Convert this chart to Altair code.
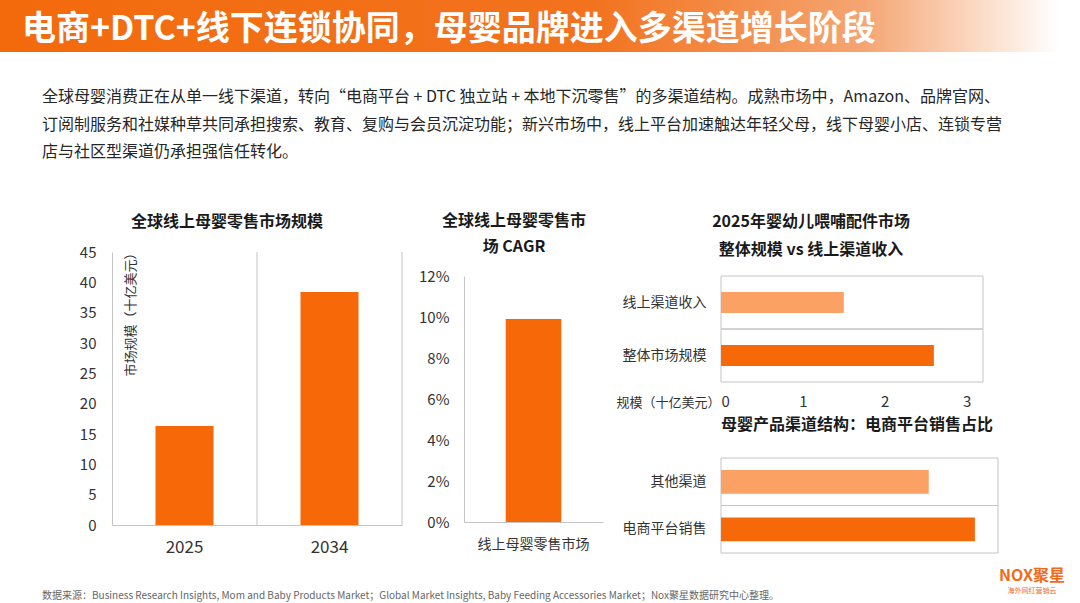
import altair as alt
import pandas as pd

# ---------------- data ----------------
c1_years = ["2025", "2034"]
c1_values = [16.3, 38.4]
c1_ticks = [0, 5, 10, 15, 20, 25, 30, 35, 40, 45]

c2_cats = ["线上母婴零售市场"]
c2_values = [0.099]
c2_ticks = [0, 0.02, 0.04, 0.06, 0.08, 0.10, 0.12]

c3_cats = ["线上渠道收入", "整体市场规模"]
c3_values = [1.5, 2.6]
c3_colors = ["#FBA163", "#F76808"]
c3_ticks = [0, 1, 2, 3]

c4_cats = ["其他渠道", "电商平台销售"]
c4_values = [0.45, 0.55]
c4_colors = ["#FBA163", "#F76808"]

header_title = "电商+DTC+线下连锁协同，母婴品牌进入多渠道增长阶段"
para_lines = [
    "全球母婴消费正在从单一线下渠道，转向“电商平台 + DTC 独立站 + 本地下沉零售”的多渠道结构。成熟市场中，Amazon、品牌官网、",
    "订阅制服务和社媒种草共同承担搜索、教育、复购与会员沉淀功能；新兴市场中，线上平台加速触达年轻父母，线下母婴小店、连锁专营",
    "店与社区型渠道仍承担强信任转化。",
]
footer = "数据来源：Business Research Insights, Mom and Baby Products Market；Global Market Insights, Baby Feeding Accessories Market；Nox聚星数据研究中心整理。"

FONT = "Noto Sans CJK SC"
ORANGE = "#F76808"
GRID = "#C4C4C4"
TXT = "#333333"
W, H = 1080, 603


def txt(s, x, y, size, weight="normal", color=TXT, align="left", baseline="middle"):
    return alt.Chart(pd.DataFrame({"t": [s]})).mark_text(
        align=align, baseline=baseline, fontSize=size, fontWeight=weight,
        color=color, font=FONT
    ).encode(text="t:N", x=alt.value(x), y=alt.value(y))


# ---------------- header ----------------
header = alt.Chart(pd.DataFrame({"a": [1]})).mark_rect(
    color=alt.LinearGradient(
        gradient="linear",
        stops=[
            alt.GradientStop(color="#F36A0C", offset=0),
            alt.GradientStop(color="#F2731E", offset=0.55),
            alt.GradientStop(color="#F5A572", offset=0.80),
            alt.GradientStop(color="#FFFFFF", offset=0.98),
        ],
        x1=0, x2=1, y1=0, y2=0,
    )
).encode(x=alt.value(0), x2=alt.value(W), y=alt.value(0), y2=alt.value(52))

layers = [header, txt(header_title, 22, 40, 34, weight="bold", color="#FFFFFF",
                      baseline="alphabetic")]
for i, line in enumerate(para_lines):
    layers.append(txt(line, 42, 97 + i * 27.5, 16, color="#262626"))

# panel titles
layers += [
    txt("全球线上母婴零售市场规模", 227, 222, 16, weight="bold", color="#1A1A1A", align="center"),
    txt("全球线上母婴零售市", 514, 221, 16, weight="bold", color="#1A1A1A", align="center"),
    txt("场 CAGR", 514, 247, 16, weight="bold", color="#1A1A1A", align="center"),
    txt("2025年婴幼儿喂哺配件市场", 811, 222, 16, weight="bold", color="#1A1A1A", align="center"),
    txt("整体规模 vs 线上渠道收入", 811, 250, 16, weight="bold", color="#1A1A1A", align="center"),
    txt("母婴产品渠道结构：电商平台销售占比", 857, 425, 16, weight="bold", color="#1A1A1A", align="center"),
    txt(footer, 42, 596, 10, color="#666666"),
    txt("NOX聚星", 1032, 576, 16, weight="bold", color="#F26A1B", align="center"),
    txt("海外网红营销云", 1032, 591, 7, color="#F26A1B", align="center"),
]


def s1x():
    return alt.Scale(domain=c1_years, range=[112, 402], paddingInner=0, paddingOuter=0)


def s1y():
    return alt.Scale(domain=[0, 45], range=[525, 252], nice=False)


# ---------------- chart 1 ----------------
df1 = pd.DataFrame({"year": c1_years, "value": c1_values})
rules1 = alt.Chart(df1).mark_rule(color=GRID, strokeWidth=1).encode(
    x=alt.X("year:N", bandPosition=1, scale=s1x(), sort=c1_years, axis=None),
    y=alt.YDatum(0, scale=s1y(), axis=None),
    y2=alt.Y2Datum(45),
)
bars1 = alt.Chart(df1).mark_bar(color=ORANGE, width=alt.RelativeBandSize(0.4)).encode(
    x=alt.X("year:N", scale=s1x(), sort=c1_years,
            axis=alt.Axis(orient="bottom", offset=-(H - 525), ticks=False, domainColor=GRID,
                          labelFontSize=17, labelPadding=14, labelAngle=0, labelColor=TXT,
                          labelFont=FONT, title=None, grid=False)),
    y=alt.Y("value:Q", scale=s1y(),
            axis=alt.Axis(orient="left", offset=-112, values=c1_ticks, ticks=False,
                          domainColor=GRID, labelFontSize=15, labelPadding=16, labelColor=TXT,
                          labelFont=FONT, grid=False,
                          title="市场规模（十亿美元）", titleFont=FONT, titleFontSize=13,
                          titleFontWeight="normal", titleColor=TXT, titleAngle=270,
                          titleAlign="right", titleBaseline="middle", titleX=18, titleY=246)),
)

# ---------------- chart 2 ----------------
df2 = pd.DataFrame({"cat": c2_cats, "value": c2_values})
bars2 = alt.Chart(df2).mark_bar(color=ORANGE, width=alt.RelativeBandSize(0.4)).encode(
    x=alt.X("cat:N", scale=alt.Scale(range=[464, 603], paddingInner=0, paddingOuter=0),
            axis=alt.Axis(orient="bottom", offset=-(H - 522), ticks=False, domainColor=GRID,
                          labelFontSize=14, labelPadding=15, labelAngle=0, labelColor=TXT,
                          labelFont=FONT, title=None, grid=False)),
    y=alt.Y("value:Q", scale=alt.Scale(domain=[0, 0.12], range=[522, 276], nice=False),
            axis=alt.Axis(orient="left", offset=-464, values=c2_ticks, format=".0%", ticks=False,
                          domainColor=GRID, labelFontSize=15, labelPadding=15, labelColor=TXT,
                          labelFont=FONT, grid=False, title=None)),
)


# ---------------- chart 3 ----------------
def s3y():
    return alt.Scale(domain=c3_cats, range=[276, 382], paddingInner=0, paddingOuter=0)


def s3x():
    return alt.Scale(domain=[0, 3.2], range=[721, 983], nice=False)


df3 = pd.DataFrame({"cat": c3_cats, "value": c3_values})
frame3 = alt.Chart(df3).mark_rect(fill="#FFFFFF", fillOpacity=0, stroke=GRID, strokeWidth=1).encode(
    y=alt.Y("cat:N", scale=s3y(), sort=c3_cats, axis=None),
    x=alt.XDatum(0, scale=s3x(), axis=None),
    x2=alt.X2Datum(3.2),
)
bars3 = alt.Chart(df3).mark_bar(height=alt.RelativeBandSize(0.4)).encode(
    y=alt.Y("cat:N", scale=s3y(), sort=c3_cats,
            axis=alt.Axis(orient="left", offset=-721, ticks=False, domain=False,
                          labelFontSize=14, labelPadding=15, labelColor=TXT, labelFont=FONT,
                          title=None, grid=False)),
    x=alt.X("value:Q", scale=s3x(),
            axis=alt.Axis(orient="bottom", offset=-(H - 382), values=c3_ticks, ticks=False,
                          domain=False, labelFontSize=15, labelPadding=12, labelColor=TXT,
                          labelFont=FONT, grid=False,
                          title="规模（十亿美元）", titleFont=FONT, titleFontSize=13,
                          titleFontWeight="normal", titleColor=TXT, titleAngle=0,
                          titleAlign="right", titleBaseline="middle", titleX=720, titleY=20)),
    color=alt.Color("cat:N", scale=alt.Scale(domain=c3_cats, range=c3_colors), legend=None),
)


# ---------------- chart 4 ----------------
def s4y():
    return alt.Scale(domain=c4_cats, range=[458, 553], paddingInner=0, paddingOuter=0)


def s4x():
    return alt.Scale(domain=[0, 0.6], range=[721, 998], nice=False)


df4 = pd.DataFrame({"cat": c4_cats, "value": c4_values})
frame4 = alt.Chart(df4).mark_rect(fill="#FFFFFF", fillOpacity=0, stroke=GRID, strokeWidth=1).encode(
    y=alt.Y("cat:N", scale=s4y(), sort=c4_cats, axis=None),
    x=alt.XDatum(0, scale=s4x(), axis=None),
    x2=alt.X2Datum(0.6),
)
bars4 = alt.Chart(df4).mark_bar(height=alt.RelativeBandSize(0.5)).encode(
    y=alt.Y("cat:N", scale=s4y(), sort=c4_cats,
            axis=alt.Axis(orient="left", offset=-721, ticks=False, domain=False,
                          labelFontSize=14, labelPadding=15, labelColor=TXT, labelFont=FONT,
                          title=None, grid=False)),
    x=alt.X("value:Q", scale=s4x(), axis=None),
    color=alt.Color("cat:N", scale=alt.Scale(domain=c4_cats, range=c4_colors), legend=None),
)

layers += [rules1, bars1, bars2, frame3, bars3, frame4, bars4]

chart = alt.layer(*layers).resolve_scale(
    x="independent", y="independent", color="independent"
).properties(
    width=W, height=H, autosize=alt.AutoSizeParams(type="none"), padding=0,
    background="#FFFFFF",
).configure_view(stroke=None)

chart.save("out.html", embed_options={"renderer": "svg", "actions": False})
